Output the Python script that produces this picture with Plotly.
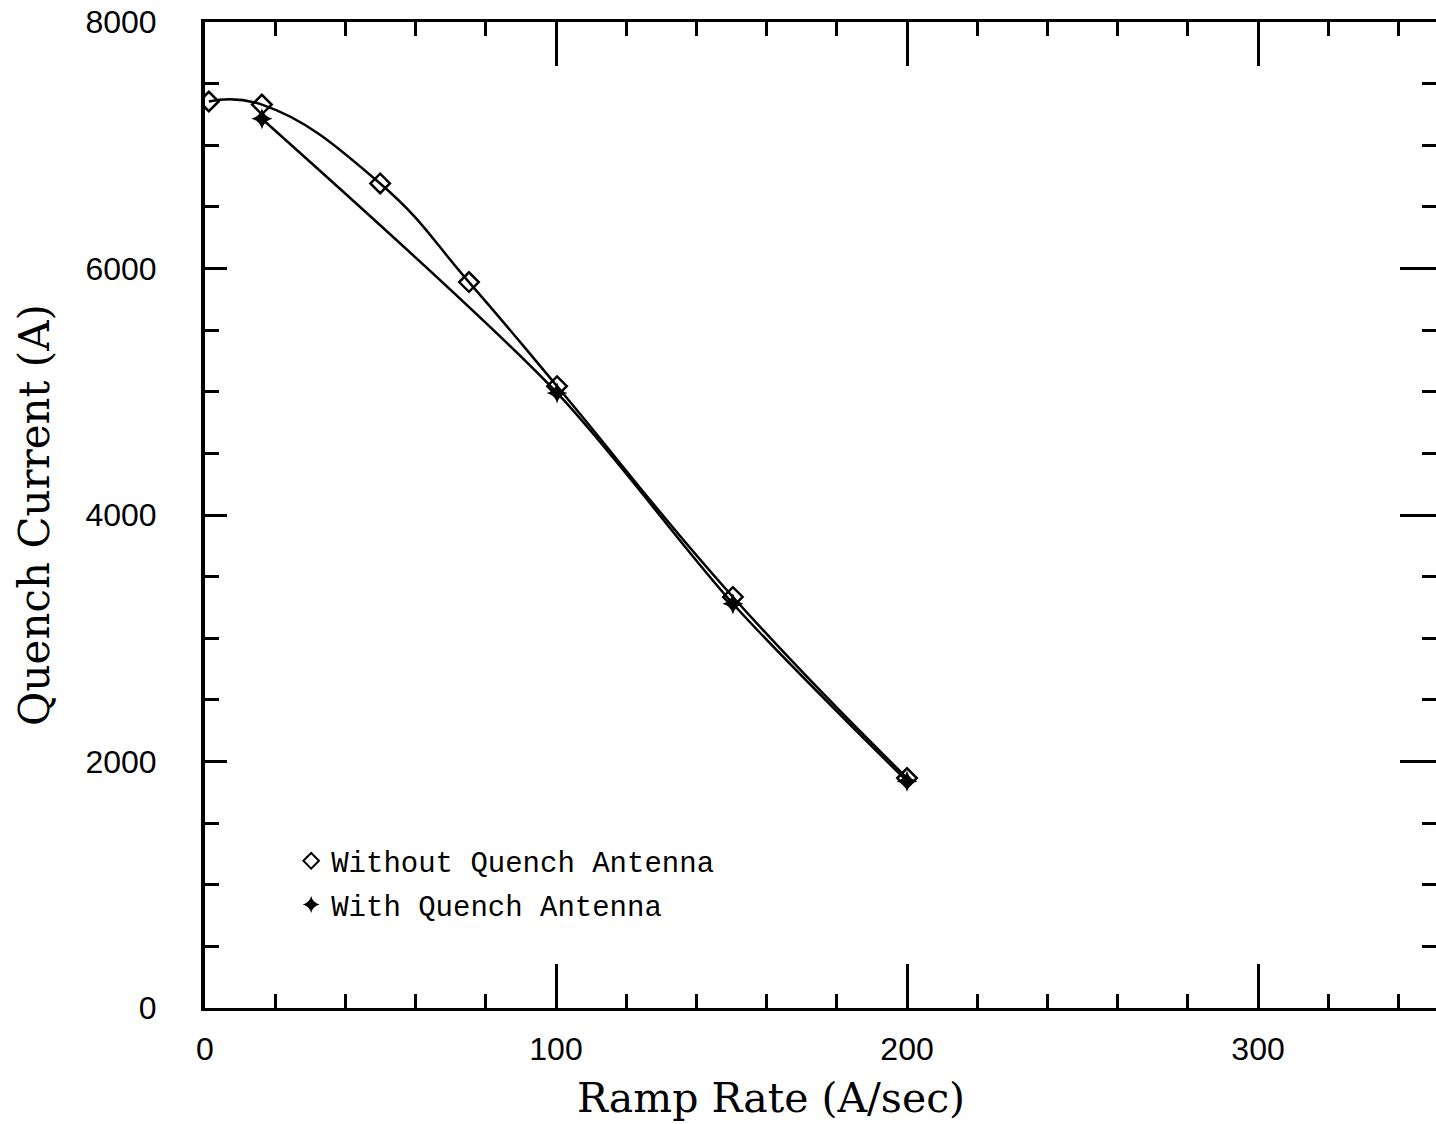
import plotly.graph_objects as go

ramp_without = [1.1, 16.2, 49.9, 75.2, 100.3, 150.4, 200.0]
iq_without = [7355, 7330, 6690, 5890, 5045, 3335, 1866]
ramp_with = [16.2, 100.3, 150.4, 200.0]
iq_with = [7215, 4990, 3280, 1840]

x_ticks = [0, 100, 200, 300]
y_ticks = [0, 2000, 4000, 6000, 8000]

label_without = "Without Quench Antenna"
label_with = "With Quench Antenna"
x_title = "Ramp Rate (A/sec)"
y_title = "Quench Current (A)"

fig = go.Figure()
fig.add_trace(go.Scatter(x=ramp_without, y=iq_without, mode="lines+markers",
                         line=dict(shape="spline", smoothing=1.3, color="black", width=2.5),
                         marker=dict(symbol="diamond-open", size=15, color="black", line=dict(width=2.5)),
                         showlegend=False))
fig.add_trace(go.Scatter(x=ramp_with, y=iq_with, mode="lines+markers",
                         line=dict(shape="spline", smoothing=0.8, color="black", width=2.5),
                         marker=dict(symbol="star-diamond", size=15, color="black"),
                         showlegend=False))
fig.add_trace(go.Scatter(x=[None], y=[None], mode="markers", name=label_without, legendgroup="a",
                         marker=dict(symbol="diamond-open", size=12, color="black", line=dict(width=2))))
fig.add_trace(go.Scatter(x=[None], y=[None], mode="markers", name=label_with, legendgroup="b",
                         marker=dict(symbol="star-diamond", size=14, color="black")))
# invisible trace to anchor right-hand tick axis
fig.add_trace(go.Scatter(x=[None], y=[None], yaxis="y2", showlegend=False, hoverinfo="skip"))

fig.update_layout(
    width=1436, height=1124,
    margin=dict(l=205, r=0, t=22, b=116, autoexpand=False),
    paper_bgcolor="white", plot_bgcolor="white",
    font=dict(family="Liberation Sans", color="black"),
    showlegend=True,
    legend=dict(x=0.07, y=0.175, xanchor="left", yanchor="top",
                font=dict(family="Liberation Mono", size=29, color="black"),
                bgcolor="rgba(0,0,0,0)", itemsizing="constant", tracegroupgap=3),
    xaxis=dict(range=[0, 350.7], tickvals=x_ticks, ticktext=[str(v) for v in x_ticks],
               automargin=False,
               showgrid=False, zeroline=False, showline=True, linewidth=3, linecolor="black",
               mirror="ticks", ticks="inside", ticklen=44, tickwidth=2.5, tickcolor="black",
               minor=dict(dtick=20, tick0=0, ticks="inside", ticklen=14, tickwidth=2.5, tickcolor="black", showgrid=False),
               tickfont=dict(family="Liberation Sans", size=32), ticklabelstandoff=11),
    yaxis=dict(range=[0, 8000], tickvals=y_ticks, ticktext=[str(v) for v in y_ticks],
               automargin=False,
               showgrid=False, zeroline=False, showline=True, linewidth=4, linecolor="black",
               mirror=False, ticks="inside", ticklen=22, tickwidth=2.5, tickcolor="black",
               minor=dict(dtick=500, tick0=0, ticks="inside", ticklen=14, tickwidth=2.5, tickcolor="black", showgrid=False),
               tickfont=dict(family="Liberation Sans", size=32), ticklabelstandoff=38,
               title=dict(text=y_title, font=dict(family="DejaVu Serif", size=42), standoff=24)),
    yaxis2=dict(range=[0, 8000], overlaying="y", side="right", tickvals=y_ticks,
                automargin=False,
                showticklabels=False, showgrid=False, zeroline=False, showline=False,
                ticks="inside", ticklen=36, tickwidth=2.5, tickcolor="black",
                minor=dict(dtick=500, tick0=0, ticks="inside", ticklen=14, tickwidth=2.5, tickcolor="black", showgrid=False)),
    annotations=[dict(text=x_title, xref="paper", yref="paper", x=0.4598, y=-0.0913,
                      xanchor="center", yanchor="middle", showarrow=False,
                      font=dict(family="DejaVu Serif", size=41, color="black"))],
)

fig.write_html("out.html", config={"displayModeBar": False},
               post_script="document.body.style.margin='0';document.body.style.overflow='hidden';")
